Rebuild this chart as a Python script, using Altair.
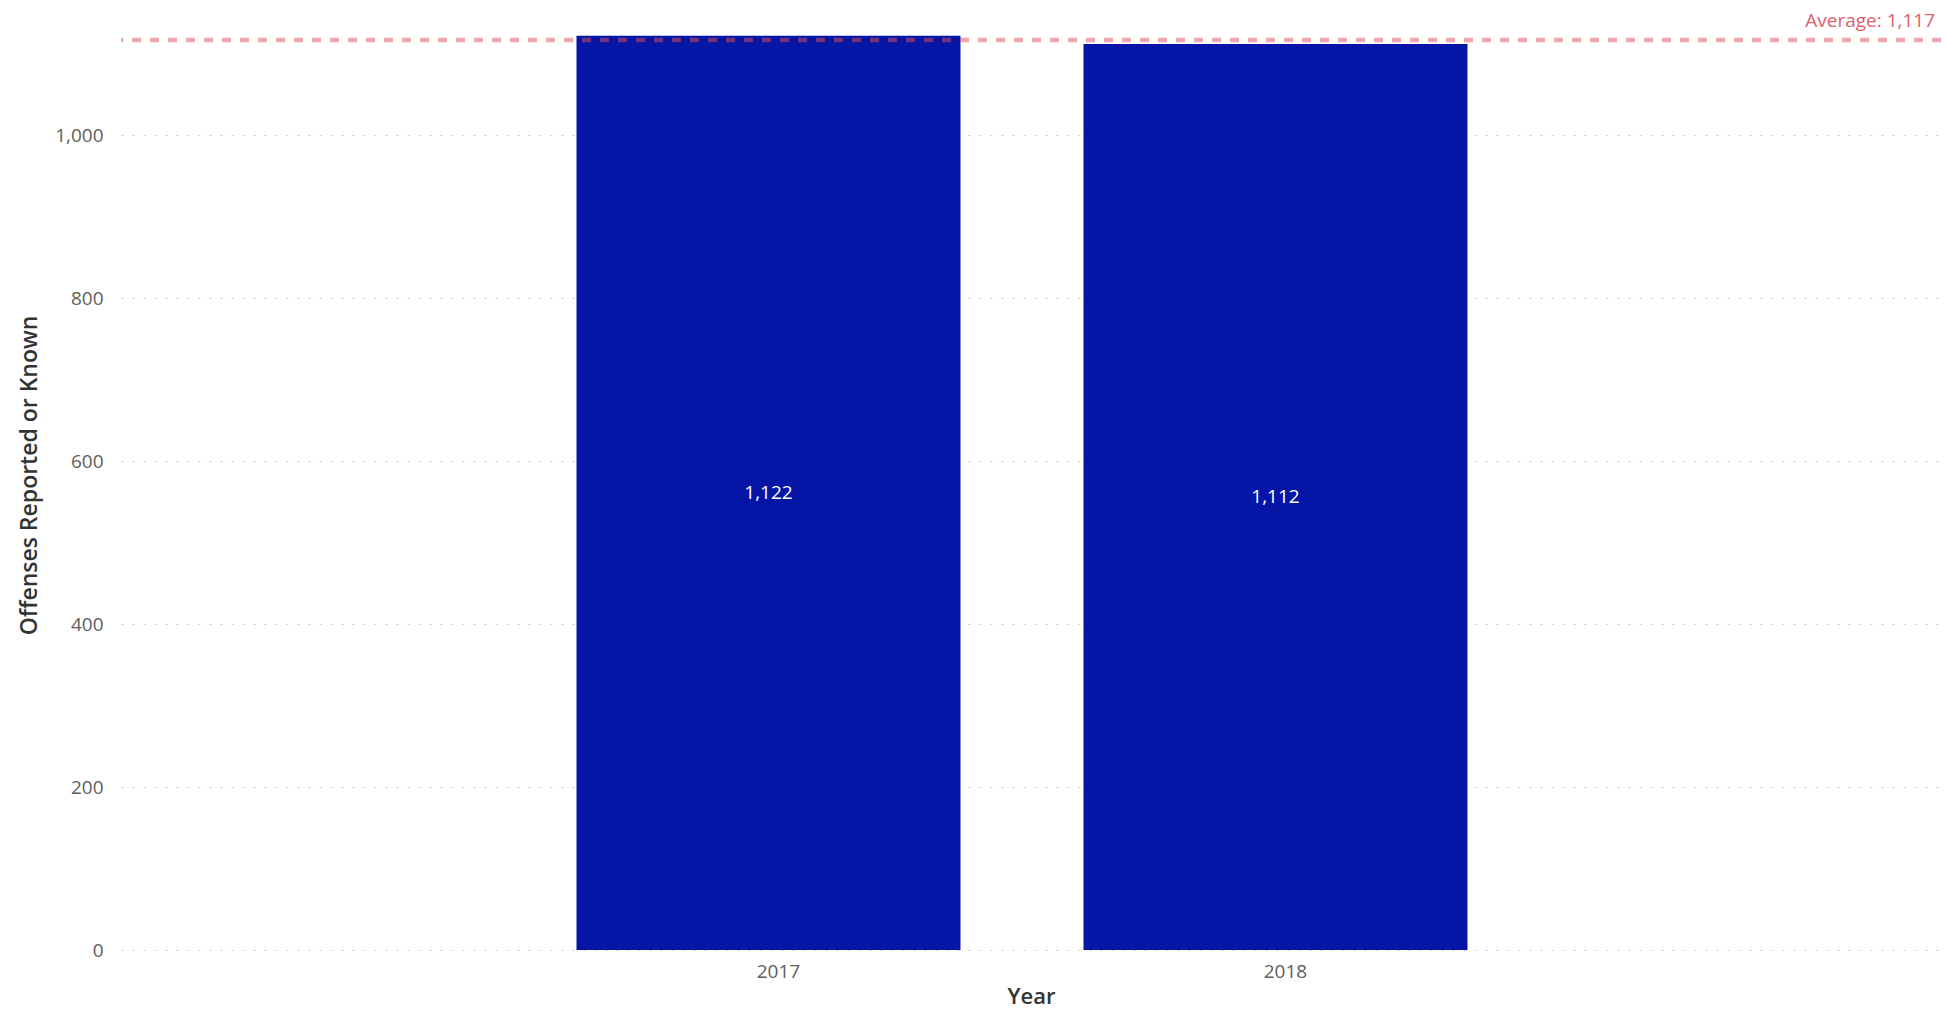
import altair as alt
import pandas as pd

years = ["2017", "2018"]
offenses = [1122, 1112]
y_ticks = [0, 200, 400, 600, 800, 1000]

df = pd.DataFrame({"Year": years, "Offenses": offenses})

BAR = "#0515A6"
AVG = "#DB4F5B"
LABEL_FONT = "Open Sans"
TITLE_FONT = "Open Sans"

base = alt.Chart(df)

x_enc = alt.X(
    "Year:N",
    sort=years,
    scale=alt.Scale(paddingInner=0.2426, paddingOuter=0.9162, align=0.4903),
    axis=alt.Axis(
        title="Year",
        labelAngle=0,
        labelFont=LABEL_FONT,
        labelFontSize=19,
        labelColor="#605E5C",
        labelPadding=12,
        labelOffset=10,
        ticks=False,
        domain=False,
        grid=False,
        titleFont=TITLE_FONT,
        titleFontSize=22,
        titleFontWeight=600,
        titleColor="#333333",
        titleBaseline="alphabetic",
        titleY=53,
    ),
)

y_scale = alt.Scale(domain=[0, 1123], nice=False)

bars = base.mark_bar(color=BAR).encode(
    x=x_enc,
    y=alt.Y(
        "Offenses:Q",
        scale=y_scale,
        axis=alt.Axis(
            title="Offenses Reported or Known",
            values=y_ticks,
            format=",d",
            labelFont=LABEL_FONT,
            labelFontSize=19,
            labelColor="#605E5C",
            labelPadding=18,
            ticks=False,
            domain=False,
            grid=True,
            gridColor="#C8C6C4",
            gridDash=[2, 9],
            gridWidth=1.2,
            titleFont=TITLE_FONT,
            titleFontSize=23,
            titleFontWeight=600,
            titleColor="#333333",
            titleAngle=270,
            titleAlign="center",
            titleBaseline="alphabetic",
            titleX=-85,
            titleY=440,
        ),
    ),
)

labels = base.transform_calculate(mid="datum.Offenses / 2").mark_text(
    color="white", font=LABEL_FONT, fontSize=19, baseline="middle", align="center"
).encode(
    x=alt.X("Year:N", sort=years),
    y=alt.Y("mid:Q", scale=y_scale),
    text=alt.Text("Offenses:Q", format=",d"),
)

avg_base = base.transform_aggregate(avg="mean(Offenses)").transform_calculate(
    label="'Average: ' + format(datum.avg, ',.0f')"
)

avg_rule = avg_base.mark_rule(
    color=AVG, strokeWidth=4.5, strokeDash=[9, 9], opacity=0.5
).encode(y=alt.Y("avg:Q", scale=y_scale))

avg_text = avg_base.mark_text(
    color=AVG, font=LABEL_FONT, fontSize=19, align="right", baseline="middle", opacity=0.9
).encode(
    x=alt.value(1814),
    y=alt.value(-14),
    text="label:N",
)

chart = (
    alt.layer(bars, labels, avg_rule, avg_text)
    .properties(
        width=1820,
        height=915,
        autosize=alt.AutoSizeParams(type="none"),
        padding={"left": 113, "top": 27, "right": 0, "bottom": 59},
        background="white",
    )
    .configure_view(stroke=None)
)

chart.save("out.html", embed_options={"renderer": "svg", "actions": False})
